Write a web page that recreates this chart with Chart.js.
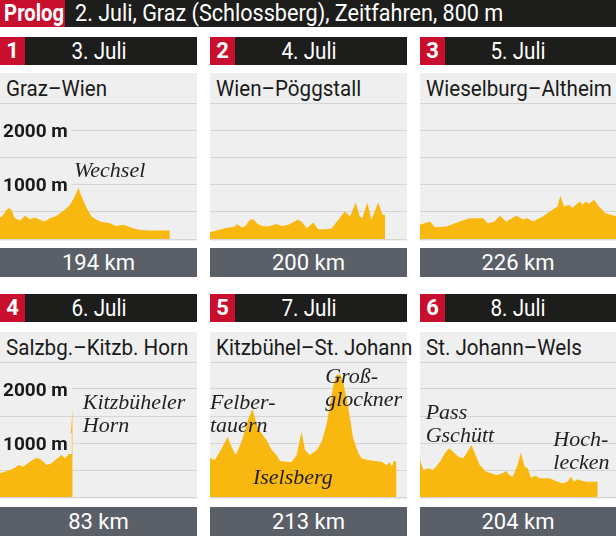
<!DOCTYPE html>
<html>
<head>
<meta charset="utf-8">
<script src="https://cdn.jsdelivr.net/npm/chart.js@4"></script>
<style>
  body { margin: 0; width: 616px; height: 541px; background: #fff; position: relative; overflow: hidden; font-family: Roboto, sans-serif; }
  .box { position: absolute; box-sizing: border-box; overflow: hidden; white-space: nowrap; }
  .dark { background: #1d1d1b; color: #fff; }
  .red { background: #c8102e; color: #fff; font-weight: bold; text-align: center; }
  .gray { background: #efefef; overflow: visible; }
  .km { background: #5b6068; color: #fff; text-align: center; font-size: 22px; }
  .sq { display: inline-block; transform-origin: center center; }
  canvas { position: absolute; }
</style>
</head>
<body>
<script>
// =====================
// Data
// =====================
const prologText = '2. Juli, Graz (Schlossberg), Zeitfahren, 800 m';
const stageNumbers = ['1', '2', '3', '4', '5', '6'];
const stageDates = ['3. Juli', '4. Juli', '5. Juli', '6. Juli', '7. Juli', '8. Juli'];
const stageRoutes = ['Graz–Wien', 'Wien–Pöggstall', 'Wieselburg–Altheim', 'Salzbg.–Kitzb. Horn', 'Kitzbühel–St. Johann', 'St. Johann–Wels'];
const stageLengths = ['194 km', '200 km', '226 km', '83 km', '213 km', '204 km'];
const elevationLabels = [1000, 2000];

const stage1Km = [0, 2, 9.5, 13, 17, 23, 28.5, 34, 40, 45.5, 51, 57, 63, 68.5, 74, 80, 85.5, 89.5, 93, 99, 104.5, 114, 125.5, 133, 141, 152, 160, 171, 194];
const stage1Elev = [400, 413, 568, 537, 383, 340, 426, 364, 395, 352, 321, 383, 413, 475, 537, 630, 784, 940, 784, 568, 413, 321, 290, 240, 260, 197, 167, 154, 154];

const stage2Km = [0, 17, 28.5, 30.5, 36, 40, 45.5, 49.5, 53.5, 59, 66.5, 76, 82, 89.5, 100, 104.5, 110.5, 118, 123.5, 131.5, 139, 146.5, 154, 160, 166.5, 171, 174, 179.5, 184.5, 192, 197, 200];
const stage2Elev = [123, 197, 228, 278, 216, 228, 352, 364, 290, 240, 228, 278, 240, 260, 352, 321, 197, 302, 179, 179, 197, 352, 506, 413, 673, 413, 383, 673, 352, 673, 444, 444];

const stage3Km = [0, 11.5, 17, 30.5, 45.5, 57, 72.5, 78, 85.5, 91.5, 99, 110.5, 118, 123.5, 129.5, 141, 152, 158, 161, 165.5, 171, 175, 179, 183.5, 186.5, 190.5, 194, 200, 205.5, 213, 219, 226];
const stage3Elev = [260, 321, 216, 228, 321, 383, 383, 290, 321, 426, 321, 426, 364, 383, 321, 413, 537, 598, 796, 598, 630, 568, 630, 691, 630, 691, 648, 722, 598, 475, 444, 413];

const stage4Km = [0, 5.5, 11.5, 17, 21, 26.5, 34, 42, 47.5, 53.5, 59, 63, 70.5, 74, 78, 80.5, 83];
const stage4Elev = [438, 469, 500, 543, 592, 561, 654, 728, 685, 592, 623, 685, 777, 716, 777, 1086, 1650];

const stage5Km = [0, 5.5, 13.5, 20, 24.5, 29.5, 36, 44, 48.5, 53.5, 59, 64.5, 70.5, 76, 80, 87.5, 93, 99, 104.5, 108.5, 114, 122, 127.5, 133, 137, 141, 144.5, 148.5, 152, 156, 160, 163.5, 169.5, 173, 180.5, 188.5, 196, 201.5, 205.5, 207.5, 210, 213];
const stage5Elev = [716, 685, 901, 1117, 932, 777, 1024, 1456, 1629, 1333, 1178, 1055, 870, 777, 666, 654, 642, 777, 1209, 870, 777, 870, 1024, 1333, 1703, 2073, 2258, 2271, 2135, 1826, 1456, 1086, 808, 716, 685, 666, 654, 592, 642, 561, 666, 654];

const stage6Km = [0, 4, 9.5, 15, 23, 28.5, 33.5, 38, 44, 49.5, 53.5, 59, 63, 68.5, 76, 87.5, 95, 99, 102.5, 106.5, 112, 116, 120, 123.5, 127.5, 133, 137, 148.5, 156, 163.5, 169.5, 173, 177, 180.5, 186.5, 192, 198, 204];
const stage6Elev = [685, 500, 531, 500, 654, 808, 901, 839, 747, 716, 808, 963, 808, 592, 469, 407, 438, 481, 407, 376, 592, 827, 561, 531, 358, 395, 346, 346, 296, 253, 284, 376, 284, 327, 296, 284, 284, 284];

// climbs: text lines anchored at (km, metres)
const stage1Notes = [{ lines: ['Wechsel'], km: 84.5, m: 1250 }];
const stage4Notes = [{ lines: ['Kitzbüheler', 'Horn'], km: 94.5, m: 1740 }];
const stage5Notes = [
  { lines: ['Felber-', 'tauern'], km: 0, m: 1740 },
  { lines: ['Groß-', 'glockner'], km: 131.5, m: 2220 },
  { lines: ['Iselsberg'], km: 49, m: 352 }
];
const stage6Notes = [
  { lines: ['Pass', 'Gschütt'], km: 6.5, m: 1555 },
  { lines: ['Hoch-', 'lecken'], km: 153, m: 1055 }
];

const stageKm = [stage1Km, stage2Km, stage3Km, stage4Km, stage5Km, stage6Km];
const stageElev = [stage1Elev, stage2Elev, stage3Elev, stage4Elev, stage5Elev, stage6Elev];
const stageNotes = [stage1Notes, [], [], stage4Notes, stage5Notes, stage6Notes];

// =====================
// Layout
// =====================
const COL_X = [0, 210, 420];
const COL_W = [197, 197, 196];
const ROWS = [
  { head: 37, gray: 73, chartTop: 103, chartBottom: 239, grayEnd: 241, km: 248 },
  { head: 294, gray: 332, chartTop: 362, chartBottom: 497, grayEnd: 499, km: 507 }
];
const BG = '#efefef';
const FILL = '#f8b810';

const addBox = (cls, x, y, w, h, css = '') => {
  const d = document.createElement('div');
  d.className = 'box ' + cls;
  d.style.cssText = `left:${x}px;top:${y}px;width:${w}px;height:${h}px;${css}`;
  document.body.appendChild(d);
  return d;
};
const squeezed = (text, scale, origin = 'center') =>
  `<span class="sq" style="transform:scaleX(${scale});transform-origin:${origin} center">${text}</span>`;

// Prolog bar
addBox('dark', 0, 0, 616, 27);
addBox('red', 0, 0, 65, 27, 'font-size:23px;line-height:27px;').innerHTML = squeezed('Prolog', 0.88);
addBox('', 75, 0, 541, 27, 'color:#fff;font-size:24px;line-height:27px;').innerHTML = squeezed(prologText, 0.9, 'left');

// =====================
// Text plugin (climb names + metre labels)
// =====================
const stageText = {
  id: 'stageText',
  afterDatasetsDraw(chart, args, opts) {
    const { ctx, scales: { x, y } } = chart;
    ctx.save();
    ctx.textBaseline = 'middle';
    if (opts.showMetres) {
      ctx.font = 'bold 19px Roboto, sans-serif';
      elevationLabels.forEach(v => {
        const label = v + ' m';
        const py = y.getPixelForValue(v);
        const w = ctx.measureText(label).width;
        ctx.fillStyle = BG;
        ctx.fillRect(0, py - 10, w + 7, 21);
        ctx.fillStyle = '#1a1a1a';
        ctx.fillText(label, 3, py + 2);
      });
    }
    ctx.font = 'italic 22px "Liberation Serif", serif';
    ctx.fillStyle = '#231f20';
    (opts.notes || []).forEach(n => {
      n.lines.forEach((line, i) => {
        ctx.fillText(line, x.getPixelForValue(n.km), y.getPixelForValue(n.m) + i * 23.5);
      });
    });
    ctx.restore();
  }
};

// =====================
// Render Stage Panels
// =====================
stageNumbers.forEach((num, i) => {
  const row = ROWS[Math.floor(i / 3)];
  const x0 = COL_X[i % 3];
  const w = COL_W[i % 3];

  addBox('dark', x0, row.head, w, 28, 'font-size:24px;line-height:28px;text-align:center;').innerHTML = squeezed(stageDates[i], 0.86);
  addBox('red', x0, row.head, 25, 28, 'font-size:22px;line-height:28px;').textContent = num;

  addBox('gray', x0, row.gray, w, row.grayEnd - row.gray,
    'font-size:22px;line-height:31px;padding-left:6px;color:#1a1a1a;').innerHTML = squeezed(stageRoutes[i], 0.935, 'left');

  addBox('km', x0, row.km, w, 29, 'line-height:29px;').textContent = stageLengths[i];

  const canvas = document.createElement('canvas');
  const h = row.chartBottom - row.chartTop + 4;
  canvas.width = w;
  canvas.height = h;
  canvas.style.left = x0 + 'px';
  canvas.style.top = (row.chartTop - 2) + 'px';
  document.body.appendChild(canvas);

  new Chart(canvas.getContext('2d'), {
    type: 'line',
    data: {
      datasets: [{
        data: stageKm[i].map((km, j) => ({ x: km, y: stageElev[i][j] })),
        backgroundColor: FILL,
        borderWidth: 0,
        pointRadius: 0,
        fill: 'origin',
        tension: 0
      }]
    },
    options: {
      responsive: false,
      animation: false,
      layout: { padding: { top: 2, bottom: 2, left: 0, right: 0 } },
      plugins: {
        legend: { display: false },
        tooltip: { enabled: false },
        stageText: { showMetres: i === 0 || i === 3, notes: stageNotes[i] }
      },
      scales: {
        x: { type: 'linear', min: 0, max: 225, display: false },
        y: {
          min: 0,
          max: 2500,
          ticks: { stepSize: 500, display: false },
          grid: { color: '#d5d5d5', lineWidth: 1, drawTicks: false },
          border: { display: false },
          afterFit: s => { s.width = 0; }
        }
      }
    },
    plugins: [stageText]
  });
});
</script>
</body>
</html>
